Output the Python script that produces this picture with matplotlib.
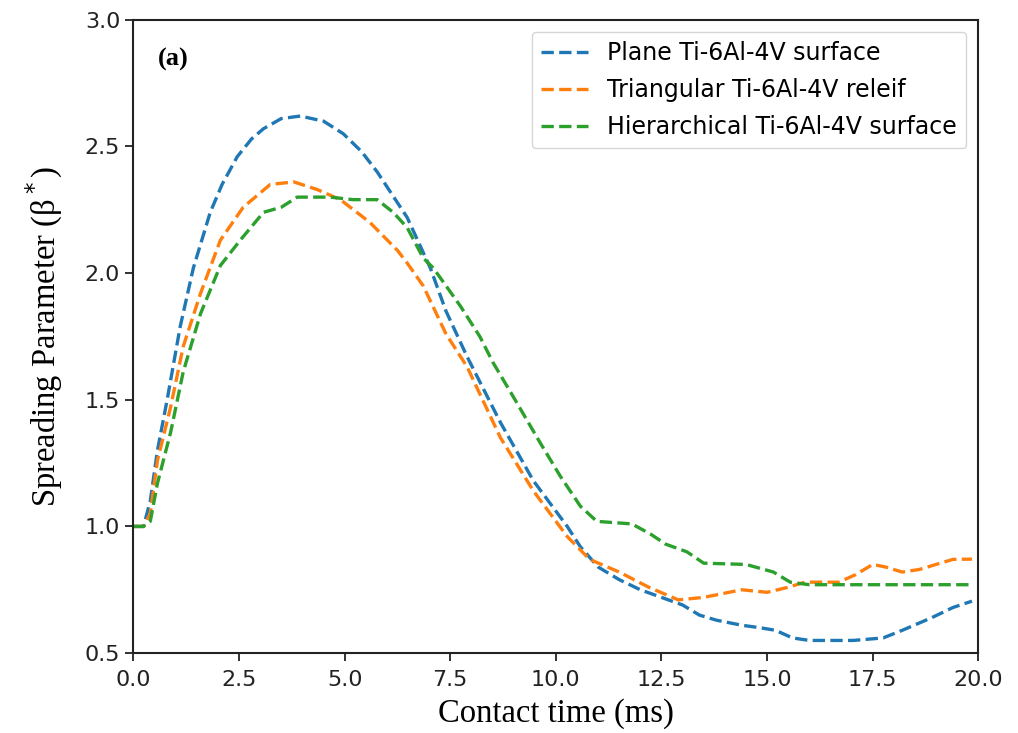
import numpy as np
import matplotlib.pyplot as plt

# contact time (ms) and spreading parameter
t_plane = [0, 0.24, 0.4, 0.57, 0.8, 1.11, 1.42, 1.82, 2.1, 2.46, 2.8, 3.08, 3.5, 3.95, 4.5, 4.97, 5.4, 5.77,
           6.48, 7.03, 7.4, 7.9, 8.69, 9.47, 10.27, 10.58, 11.0, 11.5, 12.0, 12.5, 13.0, 13.4, 13.8, 14.4,
           14.84, 15.2, 15.6, 16.0, 16.5, 17.04, 17.4, 17.75, 18.2, 18.9, 19.4, 19.85]
b_plane = [1.0, 1.0, 1.1, 1.30, 1.5, 1.79, 2.02, 2.24, 2.35, 2.46, 2.53, 2.57, 2.61, 2.62, 2.6, 2.55, 2.48,
           2.40, 2.22, 2.02, 1.85, 1.67, 1.41, 1.18, 1.0, 0.92, 0.84, 0.79, 0.75, 0.72, 0.69, 0.65, 0.63,
           0.61, 0.60, 0.59, 0.56, 0.55, 0.55, 0.55, 0.555, 0.56, 0.59, 0.64, 0.68, 0.705]

t_tri = [0, 0.24, 0.4, 0.57, 0.88, 1.18, 1.59, 2.06, 2.6, 3.24, 3.8, 4.35, 4.9, 5.6, 6.25, 6.48, 6.86,
         7.4, 7.9, 8.69, 9.47, 10.27, 10.8, 11.5, 12.2, 12.9, 13.5, 14.4, 15.0, 15.5, 15.9, 16.7, 17.1,
         17.5, 17.8, 18.2, 18.6, 19.0, 19.4, 19.85]
b_tri = [1.0, 1.0, 1.05, 1.26, 1.47, 1.71, 1.92, 2.13, 2.26, 2.35, 2.36, 2.33, 2.29, 2.2, 2.09, 2.04, 1.95,
         1.76, 1.63, 1.35, 1.14, 0.96, 0.87, 0.82, 0.76, 0.71, 0.72, 0.75, 0.74, 0.76, 0.78, 0.78, 0.81,
         0.85, 0.84, 0.82, 0.83, 0.85, 0.87, 0.871]

t_hier = [0, 0.24, 0.4, 0.57, 0.88, 1.18, 1.59, 2.06, 2.53, 3.08, 3.5, 3.88, 4.66, 5.2, 5.77, 6.15, 6.48,
          6.86, 7.1, 7.4, 7.74, 8.2, 8.52, 9.0, 9.63, 10.1, 10.58, 10.97, 11.8, 12.24, 12.6, 13.1, 13.5,
          14.5, 15.15, 15.55, 16.0, 17.0, 18.0, 19.0, 19.85]
b_hier = [1.0, 1.0, 1.02, 1.17, 1.37, 1.61, 1.84, 2.03, 2.13, 2.24, 2.26, 2.30, 2.30, 2.29, 2.29, 2.24, 2.18,
          2.06, 2.02, 1.95, 1.87, 1.75, 1.645, 1.51, 1.33, 1.2, 1.08, 1.02, 1.01, 0.97, 0.93, 0.90, 0.855,
          0.85, 0.82, 0.78, 0.77, 0.77, 0.77, 0.77, 0.77]

labels = ['Plane Ti-6Al-4V surface', 'Triangular Ti-6Al-4V releif', 'Hierarchical Ti-6Al-4V surface']

fig = plt.figure(figsize=(10.18, 7.33), dpi=100)
ax = fig.add_axes([0.131, 0.109, 0.83, 0.864])

ax.plot(t_plane, b_plane, '--', color='#1f77b4', lw=2.4, label=labels[0])
ax.plot(t_tri, b_tri, '--', color='#ff7f0e', lw=2.4, label=labels[1])
ax.plot(t_hier, b_hier, '--', color='#2ca02c', lw=2.4, label=labels[2])

ax.set_xlim(0, 20)
ax.set_ylim(0.5, 3.0)
ax.set_xticks(np.arange(0, 20.1, 2.5))
ax.set_yticks(np.arange(0.5, 3.01, 0.5))
ax.tick_params(labelsize=16, length=6, width=1.3, colors='#222222')
ax.tick_params(axis='x', pad=6)
for s in ax.spines.values():
    s.set_linewidth(1.5)
    s.set_color('#222222')

ax.set_xlabel('Contact time (ms)', fontsize=23.5, family='Liberation Serif', labelpad=6)
ax.set_ylabel(r'Spreading Parameter (β$^*$)', fontsize=23.5, family='Liberation Serif', labelpad=14)
ax.text(0.047, 0.937, '(a)', transform=ax.transAxes, fontsize=19, fontweight='bold',
        family='Liberation Serif', va='center', ha='center')

leg = ax.legend(loc='upper right', fontsize=17, handlelength=2.0, borderaxespad=0.5,
                labelspacing=0.55, handletextpad=0.8)

fig.savefig('out.png', dpi=100)
